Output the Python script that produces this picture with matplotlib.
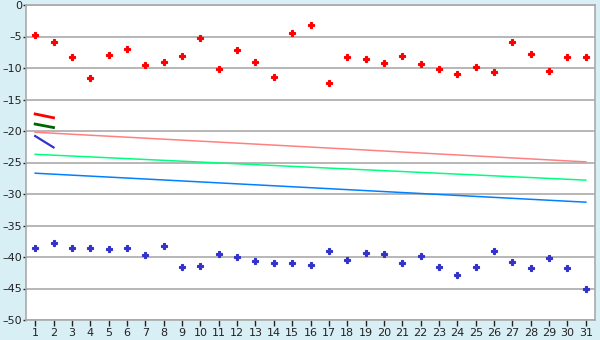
import matplotlib
matplotlib.use("Agg")
import matplotlib.pyplot as plt

days = list(range(1, 32))
red_pts = [-4.7, -5.9, -8.3, -11.6, -8.0, -7.0, -9.6, -9.1, -8.1, -5.3,
           -10.2, -7.2, -9.1, -11.5, -4.5, -3.1, -12.4, -8.3, -8.5, -9.25,
           -8.15, -9.4, -10.2, -11.0, -9.9, -10.7, -5.9, -7.8, -10.4, -8.3, -8.3]
blue_pts = [-38.6, -37.7, -38.6, -38.6, -38.8, -38.6, -39.7, -38.3, -41.6, -41.5,
            -39.6, -40.0, -40.7, -41.0, -41.0, -41.3, -39.1, -40.5, -39.4, -39.6,
            -41.0, -39.8, -41.6, -42.9, -41.6, -39.1, -40.8, -41.8, -40.2, -41.8, -45.0]

trend_x = [1, 31]
pink_line = [-20.2, -24.9]
green_line = [-23.7, -27.8]
blue_line = [-26.7, -31.3]

short_x = [1, 2]
short_red = [-17.3, -17.9]
short_green = [-18.9, -19.45]
short_blue = [-20.8, -22.6]

yticks = [0, -5, -10, -15, -20, -25, -30, -35, -40, -45, -50]
ytick_labels = ["0", "\u20135", "\u201310", "\u201315", "\u201320", "\u201325",
                "\u201330", "\u201335", "\u201340", "\u201345", "\u201350"]

bg = "#D9EFF6"
fig = plt.figure(figsize=(6, 3.4), dpi=100, facecolor=bg)
ax = fig.add_axes([26/600, 1-320/340, (595-26)/600, (320-5)/340])
ax.set_facecolor("white")

ax.set_xlim(0.5, 31.5)
ax.set_ylim(-50, 0)
ax.set_yticks(yticks)
ax.set_yticklabels(ytick_labels)
ax.set_xticks(days)
ax.grid(axis="y", color="#AAAAAA", linewidth=1.2)
ax.set_axisbelow(True)

ax.plot(trend_x, pink_line, color="#FF8080", lw=1.1)
ax.plot(trend_x, green_line, color="#00FF80", lw=1.1)
ax.plot(trend_x, blue_line, color="#0080FF", lw=1.1)

ax.plot(short_x, short_red, color="#FF0000", lw=2)
ax.plot(short_x, short_green, color="#006400", lw=2)
ax.plot(short_x, short_blue, color="#3333CC", lw=1.6)

ax.plot(days, red_pts, ls="none", marker="P", ms=5, color="#FF0000", mec="#FF0000", mew=0.8)
ax.plot(days, blue_pts, ls="none", marker="P", ms=5, color="#3333CC", mec="#3333CC", mew=0.8)

for s in ax.spines.values():
    s.set_color("#AAAAAA")
    s.set_linewidth(1.2)
ax.tick_params(axis="both", colors="#222222", labelsize=8, length=4, width=1, pad=2)
ax.tick_params(axis="y", length=2, pad=1)
for lbl in ax.get_xticklabels() + ax.get_yticklabels():
    lbl.set_color("#222222")

fig.savefig("out.png", dpi=100, facecolor=bg)
